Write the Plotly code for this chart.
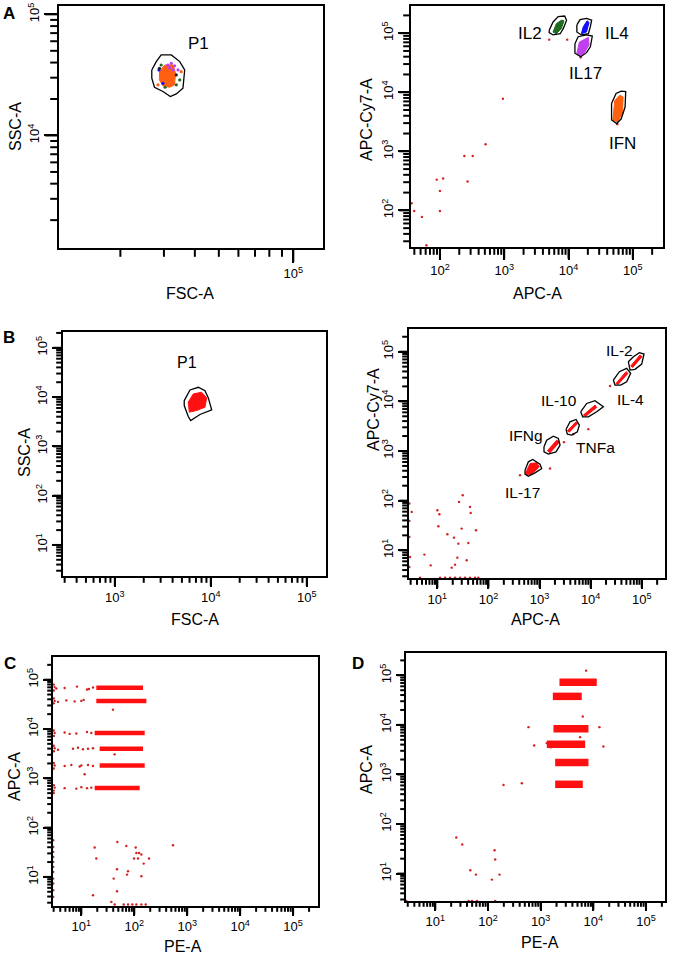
import math
import plotly.graph_objects as go

# ======================= DATA (all values in log10 units) =======================
# ---- Panel A (left): FSC-A vs SSC-A, gate P1
A1_gate_lx = [4.428, 4.446, 4.466, 4.507, 4.541, 4.561, 4.554, 4.527, 4.503, 4.473, 4.439, 4.428]
A1_gate_ly = [4.541, 4.610, 4.665, 4.665, 4.610, 4.541, 4.390, 4.343, 4.321, 4.363, 4.398, 4.473]
A1_core_lx = [4.459, 4.480, 4.514, 4.524, 4.520, 4.500, 4.473, 4.459]
A1_core_ly = [4.527, 4.582, 4.582, 4.514, 4.418, 4.398, 4.409, 4.459]
A1_dot_lx = [4.493, 4.507, 4.514, 4.534, 4.457, 4.473, 4.466, 4.541, 4.527, 4.482, 4.459, 4.527, 4.547, 4.453, 4.500, 4.520]
A1_dot_ly = [4.582, 4.596, 4.541, 4.541, 4.541, 4.431, 4.582, 4.459, 4.418, 4.398, 4.555, 4.500, 4.527, 4.418, 4.560, 4.575]
A1_dot_pop = ["IL17", "IL17", "IL17", "IL17", "IL4", "IL4", "IL2", "IL2", "IL2", "IL2", "other", "other", "IFN", "IFN", "IL17", "IL17"]
A1_label = ("P1", 4.615, 4.761)

# ---- Panel A (right): APC-A vs APC-Cy7-A, four cytokine gates
A2_pops = ["IL2", "IL4", "IL17", "IFN"]
A2_gate_lx = [
    [3.70, 3.76, 3.84, 3.94, 3.97, 3.92, 3.87, 3.76, 3.70],
    [4.13, 4.18, 4.28, 4.36, 4.34, 4.31, 4.20, 4.13],
    [4.10, 4.15, 4.28, 4.37, 4.34, 4.28, 4.19, 4.10],
    [4.67, 4.74, 4.82, 4.89, 4.88, 4.82, 4.75, 4.67],
]
A2_gate_ly = [
    [5.05, 5.19, 5.28, 5.29, 5.22, 5.08, 4.99, 4.97, 5.01],
    [5.14, 5.23, 5.25, 5.22, 5.11, 4.99, 4.97, 5.02],
    [4.82, 4.94, 4.97, 4.95, 4.77, 4.67, 4.60, 4.66],
    [3.81, 3.98, 4.02, 4.01, 3.75, 3.55, 3.47, 3.53],
]
A2_core_lx = [
    [3.76, 3.81, 3.89, 3.93, 3.89, 3.81],
    [4.20, 4.23, 4.29, 4.32, 4.28],
    [4.13, 4.17, 4.31, 4.32, 4.25, 4.18],
    [4.69, 4.72, 4.80, 4.85, 4.84, 4.76],
]
A2_core_ly = [
    [5.02, 5.16, 5.22, 5.21, 5.08, 4.99],
    [4.99, 5.11, 5.21, 5.18, 5.02],
    [4.66, 4.85, 4.93, 4.80, 4.67, 4.61],
    [3.53, 3.86, 3.95, 3.92, 3.64, 3.50],
]
A2_label_lx = [3.40, 4.76, 4.27, 4.84]
A2_label_ly = [5.00, 5.00, 4.31, 3.13]
A2_dot_lx = [2.98, 2.71, 2.38, 2.51, 1.95, 2.05, 2.00, 2.43, 2.00, 1.56, 1.60, 1.72, 1.79, 3.70, 3.98, 4.19, 4.76]
A2_dot_ly = [3.89, 3.12, 2.92, 2.92, 2.52, 2.54, 2.33, 2.49, 1.99, 2.12, 1.99, 1.89, 1.41, 4.89, 4.89, 4.59, 3.46]

# ---- Panel B (left): FSC-A vs SSC-A, gate P1
B1_gate_lx = [3.723, 3.783, 3.870, 3.939, 3.974, 4.009, 3.887, 3.790, 3.765, 3.723]
B1_gate_ly = [3.929, 4.145, 4.199, 4.131, 3.983, 3.741, 3.646, 3.525, 3.606, 3.828]
B1_core_lx = [3.765, 3.817, 3.904, 3.957, 3.939, 3.852, 3.776]
B1_core_ly = [3.896, 4.064, 4.098, 3.983, 3.795, 3.727, 3.694]
B1_label = ("P1", 3.748, 4.70)

# ---- Panel B (right): APC-A vs APC-Cy7-A, six cytokine gates
B2_pops = ["IL-2", "IL-4", "IL-10", "TNFa", "IFNg", "IL-17"]
B2_gate_lx = [
    [4.738, 4.836, 4.953, 5.044, 4.999, 4.868, 4.770],
    [4.444, 4.562, 4.705, 4.783, 4.705, 4.588, 4.477],
    [3.805, 3.922, 4.085, 4.249, 4.118, 3.955, 3.844],
    [3.518, 3.596, 3.714, 3.779, 3.740, 3.629, 3.544],
    [3.087, 3.140, 3.270, 3.368, 3.401, 3.322, 3.172, 3.087],
    [2.716, 2.781, 2.866, 3.009, 3.042, 2.911, 2.781, 2.716],
]
B2_gate_ly = [
    [4.798, 4.899, 4.980, 4.953, 4.751, 4.644, 4.630],
    [4.429, 4.597, 4.664, 4.563, 4.395, 4.328, 4.328],
    [3.790, 3.958, 4.012, 3.891, 3.790, 3.689, 3.689],
    [3.434, 3.588, 3.635, 3.521, 3.387, 3.319, 3.339],
    [3.084, 3.218, 3.299, 3.252, 3.118, 2.983, 2.936, 2.983],
    [2.613, 2.782, 2.829, 2.734, 2.647, 2.560, 2.492, 2.533],
]
B2_core_lx = [
    [4.783, 4.966, 5.005, 4.823],
    [4.496, 4.692, 4.731, 4.536],
    [3.857, 4.085, 4.118, 3.909],
    [3.544, 3.714, 3.746, 3.583],
    [3.153, 3.335, 3.388, 3.205],
    [2.729, 2.814, 2.944, 2.996, 2.846, 2.749],
]
B2_core_ly = [
    [4.711, 4.933, 4.899, 4.684],
    [4.361, 4.597, 4.563, 4.341],
    [3.723, 3.924, 3.877, 3.703],
    [3.407, 3.588, 3.555, 3.380],
    [3.003, 3.218, 3.178, 2.963],
    [2.560, 2.748, 2.761, 2.681, 2.533, 2.513],
]
B2_label_lx = [4.56, 4.77, 3.39, 4.10, 2.74, 2.67]
B2_label_ly = [5.03, 4.04, 4.01, 3.07, 3.31, 2.16]
B2_dot_lx = [0.498, 1.000, 1.039, 1.020, 1.196, 1.326, 1.411, 1.424, 1.496, 1.639, 1.652, 1.757, 1.476, 1.607,
             1.391, 1.574, 1.280, 1.346, 0.870, 0.746, 0.452, 0.452, 0.452, 0.465, 0.452,
             1.052, 1.150, 1.248, 1.346, 1.444, 1.541, 1.639, 1.737, 1.802, 0.661,
             4.379, 3.955, 3.205, 2.618, 3.661, 3.479]
B2_dot_ly = [1.773, 1.807, 1.726, 1.484, 1.323, 1.255, 1.134, 1.975, 2.109, 1.874, 1.753, 1.403, 1.437, 1.148,
             0.852, 0.798, 0.650, 0.711, 0.697, 0.913, 1.941, 1.592, 1.269, 0.866, 0.664,
             0.450, 0.450, 0.450, 0.450, 0.450, 0.450, 0.450, 0.450, 0.450, 0.450,
             4.308, 3.440, 2.647, 2.513, 3.339, 3.178]

# ---- Panel C: PE-A vs APC-A, six bead bands (dense cores + sparse events)
C_band_ly = [4.838, 4.568, 3.919, 3.601, 3.257, 2.804]
C_band_lx_start = [1.283, 1.283, 1.252, 1.346, 1.346, 1.252]
C_band_lx_end = [2.165, 2.228, 2.197, 2.165, 2.197, 2.102]
C_dot_lx = [0.496, 0.528, 0.685, 0.918, 1.107, 1.145, 1.220, 0.48, 0.48,
            0.496, 0.559, 0.717, 0.874, 1.000, 1.044, 1.598, 0.48, 0.48,
            0.496, 0.685, 0.780, 0.906, 1.107, 1.189, 0.48, 0.48,
            0.496, 0.559, 0.843, 0.937, 1.031, 1.126, 1.220, 1.630, 0.48, 0.48,
            0.496, 0.685, 0.811, 0.969, 1.000, 1.126, 1.220, 1.063, 0.48, 0.48,
            0.496, 0.685, 0.906, 1.000, 1.107, 1.189, 0.48, 0.48, 0.48,
            1.680, 1.252, 1.850, 2.027, 2.039, 2.090, 2.134, 1.995, 2.071, 2.178, 2.279, 2.732, 1.283,
            1.674, 1.882, 1.863, 2.134, 1.611, 1.674, 1.220, 1.567,
            1.630, 1.800, 1.882, 1.964, 2.039, 2.134, 2.216,
            0.47, 0.47, 0.47, 0.47, 0.47, 0.47, 0.47, 0.47, 0.47, 0.47, 0.47]
C_dot_ly = [4.85, 4.82, 4.83, 4.86, 4.80, 4.81, 4.84, 4.90, 4.78,
            4.57, 4.55, 4.58, 4.56, 4.57, 4.59, 4.392, 4.62, 4.52,
            3.92, 3.93, 3.90, 3.91, 3.94, 3.92, 3.97, 3.86,
            3.61, 3.58, 3.60, 3.62, 3.59, 3.60, 3.61, 3.486, 3.66, 3.55,
            3.26, 3.25, 3.27, 3.24, 3.26, 3.27, 3.25, 3.081, 3.31, 3.20,
            2.81, 2.80, 2.79, 2.82, 2.80, 2.81, 2.86, 2.75, 2.70,
            1.709, 1.595, 1.628, 1.595, 1.486, 1.486, 1.453, 1.372, 1.372, 1.270, 1.372, 1.642, 1.372,
            1.155, 1.115, 1.047, 1.014, 0.966, 0.709, 0.628, 0.493,
            0.44, 0.44, 0.44, 0.44, 0.44, 0.44, 0.44,
            1.743, 1.608, 1.507, 1.405, 1.304, 1.203, 1.101, 0.966, 0.865, 0.730, 0.595]

# ---- Panel D: PE-A vs APC-A, six bead bands
D_band_ly = [4.858, 4.575, 3.921, 3.610, 3.239, 2.801]
D_band_lx_start = [3.357, 3.231, 3.243, 3.117, 3.275, 3.275]
D_band_lx_end = [4.065, 3.780, 3.907, 3.844, 3.907, 3.799]
D_dot_lx = [3.863, 3.799, 2.769, 4.115, 2.877, 3.117, 3.193, 4.191, 3.749, 2.295, 2.643,
            1.398, 1.512, 1.664, 1.771, 2.074, 2.125, 2.137, 2.220,
            0.450, 1.632, 1.695, 1.790, 2.137]
D_dot_ly = [5.094, 4.170, 3.954, 3.954, 3.583, 3.631, 3.550, 3.563, 3.752, 2.788, 2.821,
            1.728, 1.587, 1.067, 0.980, 0.879, 1.472, 1.283, 0.980,
            0.450, 0.450, 0.450, 0.450, 0.450]

# ======================= STYLE / LAYOUT =======================
W, H = 675, 956
FONT = "Liberation Sans, Arial, sans-serif"
POP_COLORS = {"IL2": "#1f6b1f", "IL4": "#1010ff", "IL17": "#c040f0", "IFN": "#ff6010", "other": "#222222"}
RED = "#ff1010"
DOT_RED = "#d42020"

# panel boxes in pixels: (left, top, right, bottom)
BOXES = {
    1: (59, 6, 323, 248),
    2: (411, 6, 663, 247),
    3: (63, 332, 326, 576),
    4: (409, 329, 665, 578),
    5: (53, 657, 318, 906),
    6: (406, 653, 665, 901),
}
RANGES = {
    1: ([4.053, 5.12], [3.071, 5.069]),
    2: ([1.55, 5.47], [1.38, 5.46]),
    3: ([2.46, 5.20], [0.37, 5.32]),
    4: ([0.445, 5.455], [0.442, 5.457]),
    5: ([0.465, 5.47], [0.41, 5.46]),
    6: ([0.444, 5.36], [0.447, 5.45]),
}
MAJORS = {
    1: ([5], [4, 5]),
    2: ([2, 3, 4, 5], [2, 3, 4, 5]),
    3: ([3, 4, 5], [1, 2, 3, 4, 5]),
    4: ([1, 2, 3, 4, 5], [1, 2, 3, 4, 5]),
    5: ([1, 2, 3, 4, 5], [1, 2, 3, 4, 5]),
    6: ([1, 2, 3, 4, 5], [1, 2, 3, 4, 5]),
}
# (minor tick length, major tick length) in px
TICKLEN = {1: (8, 13), 2: (7, 11), 3: (6, 9), 4: (6, 9), 5: (5, 8), 6: (5, 8)}


def P(v):
    return [10 ** t for t in v]


def closed(v):
    return list(v) + [v[0]]


def minors(rng):
    lo, hi = rng
    out = []
    for n in range(math.floor(lo), math.ceil(hi) + 1):
        for k in range(2, 10):
            val = k * 10 ** n
            if lo <= math.log10(val) <= hi:
                out.append(val)
    return out


def axis(rng, majors, dom, anchor, is_y, standoff):
    d = dict(
        type="log", range=rng, domain=dom, anchor=anchor, automargin=False,
        tickmode="array", tickvals=[10 ** e for e in majors],
        ticktext=[f"10<sup>{e}</sup>" for e in majors],
        ticks="outside", ticklen=standoff, tickwidth=2, tickcolor="black",
        showline=True, linecolor="black", linewidth=1.8, mirror=True,
        showgrid=False, zeroline=False,
        tickfont=dict(family=FONT, size=13, color="black"),
    )
    if is_y:
        d["tickangle"] = -90
    return d


fig = go.Figure()
layout = dict(width=W, height=H, margin=dict(l=0, r=0, t=0, b=0, pad=0, autoexpand=False),
              template="none", plot_bgcolor="white", paper_bgcolor="white", showlegend=False)
shapes = []
for i in range(1, 7):
    l, t, r, b = BOXES[i]
    s = "" if i == 1 else str(i)
    mn, mj = TICKLEN[i]
    (xlo, xhi), (ylo, yhi) = RANGES[i]
    layout["xaxis" + s] = axis(RANGES[i][0], MAJORS[i][0], [l / W, r / W], "y" + s, False, mj)
    layout["yaxis" + s] = axis(RANGES[i][1], MAJORS[i][1], [1 - b / H, 1 - t / H], "x" + s, True, mj)
    # minor/major tick comb as paper-referenced line shapes, placed at the axis positions
    xt = [(v, mn) for v in minors(RANGES[i][0])] + [(10 ** e, mj) for e in MAJORS[i][0]]
    yt = [(v, mn) for v in minors(RANGES[i][1])] + [(10 ** e, mj) for e in MAJORS[i][1]]
    for v, ln in xt:
        xp = (l + (math.log10(v) - xlo) / (xhi - xlo) * (r - l)) / W
        shapes.append(dict(type="line", xref="paper", yref="paper", x0=xp, x1=xp,
                           y0=1 - (b + 0.8) / H, y1=1 - (b + 0.8 + ln) / H,
                           line=dict(color="black", width=2)))
    for v, ln in yt:
        yp = 1 - (b - (math.log10(v) - ylo) / (yhi - ylo) * (b - t)) / H
        shapes.append(dict(type="line", xref="paper", yref="paper", y0=yp, y1=yp,
                           x0=(l - 0.8) / W, x1=(l - 0.8 - ln) / W,
                           line=dict(color="black", width=2)))
layout["shapes"] = shapes
fig.update_layout(**layout)


def ax(i):
    s = "" if i == 1 else str(i)
    return dict(xaxis="x" + s, yaxis="y" + s)


def gate(i, lx, ly, w=1.3):
    fig.add_trace(go.Scatter(x=P(closed(lx)), y=P(closed(ly)), mode="lines",
                             line=dict(color="black", width=w), hoverinfo="skip", **ax(i)))


def blob(i, lx, ly, color):
    fig.add_trace(go.Scatter(x=P(closed(lx)), y=P(closed(ly)), mode="lines", fill="toself",
                             fillcolor=color, line=dict(color=color, width=1), hoverinfo="skip", **ax(i)))


def dots(i, lx, ly, color, size=2.6):
    fig.add_trace(go.Scatter(x=P(lx), y=P(ly), mode="markers",
                             marker=dict(color=color, size=size, line=dict(width=0)),
                             hoverinfo="skip", **ax(i)))


def band(i, ly, x0, x1, color, width):
    fig.add_trace(go.Scatter(x=P([x0, x1]), y=P([ly, ly]), mode="lines",
                             line=dict(color=color, width=width), hoverinfo="skip", **ax(i)))


annotations = []


def data_label(i, text, lx, ly, size):
    s = "" if i == 1 else str(i)
    annotations.append(dict(x=lx, y=ly, xref="x" + s, yref="y" + s, text=text, showarrow=False,
                            xanchor="center", yanchor="middle",
                            font=dict(family=FONT, size=size, color="black")))


def paper_text(text, px, py, size, angle=0, bold=False):
    annotations.append(dict(x=px / W, y=1 - py / H, xref="paper", yref="paper",
                            text=f"<b>{text}</b>" if bold else text, showarrow=False, textangle=angle,
                            xanchor="center", yanchor="middle",
                            font=dict(family=FONT, size=size, color="black")))


# ---- Panel A left
gate(1, A1_gate_lx, A1_gate_ly)
blob(1, A1_core_lx, A1_core_ly, POP_COLORS["IFN"])
for lx, ly, pop in zip(A1_dot_lx, A1_dot_ly, A1_dot_pop):
    dots(1, [lx], [ly], POP_COLORS[pop], 3.2)
data_label(1, A1_label[0], A1_label[1], A1_label[2], 17)

# ---- Panel A right
dots(2, A2_dot_lx, A2_dot_ly, DOT_RED, 2.4)
for k, pop in enumerate(A2_pops):
    blob(2, A2_core_lx[k], A2_core_ly[k], POP_COLORS[pop])
    gate(2, A2_gate_lx[k], A2_gate_ly[k])
    data_label(2, pop, A2_label_lx[k], A2_label_ly[k], 17)

# ---- Panel B left
blob(3, B1_core_lx, B1_core_ly, RED)
gate(3, B1_gate_lx, B1_gate_ly)
data_label(3, B1_label[0], B1_label[1], B1_label[2], 16)

# ---- Panel B right
dots(4, B2_dot_lx, B2_dot_ly, DOT_RED, 2.4)
for k, pop in enumerate(B2_pops):
    blob(4, B2_core_lx[k], B2_core_ly[k], RED)
    gate(4, B2_gate_lx[k], B2_gate_ly[k])
    data_label(4, pop, B2_label_lx[k], B2_label_ly[k], 15.5)

# ---- Panel C
for ly, x0, x1 in zip(C_band_ly, C_band_lx_start, C_band_lx_end):
    band(5, ly, x0, x1, RED, 4.5)
dots(5, C_dot_lx, C_dot_ly, DOT_RED, 2.4)

# ---- Panel D
for ly, x0, x1 in zip(D_band_ly, D_band_lx_start, D_band_lx_end):
    band(6, ly, x0, x1, RED, 7.5)
dots(6, D_dot_lx, D_dot_ly, DOT_RED, 2.4)

# ---- axis titles and panel letters
paper_text("FSC-A", 190, 293, 16)
paper_text("SSC-A", 15, 127, 16, -90)
paper_text("APC-A", 537, 293, 16)
paper_text("APC-Cy7-A", 366, 120, 16, -90)
paper_text("SSC-A", 24, 453, 16, -90)
paper_text("FSC-A", 195, 619, 16)
paper_text("APC-A", 535, 619, 16)
paper_text("APC-Cy7-A", 373, 410, 16, -90)
paper_text("APC-A", 14, 777, 16, -90)
paper_text("PE-A", 183, 946, 16)
paper_text("APC-A", 366, 770, 16, -90)
paper_text("PE-A", 540, 942, 16)
paper_text("A", 9, 14, 17, bold=True)
paper_text("B", 9, 337, 17, bold=True)
paper_text("C", 10, 663, 17, bold=True)
paper_text("D", 358, 663, 17, bold=True)

fig.update_layout(annotations=annotations)
fig.write_html("out.html", config={"displayModeBar": False, "staticPlot": True},
               post_script="document.body.style.margin='0px';document.body.style.padding='0px';")
